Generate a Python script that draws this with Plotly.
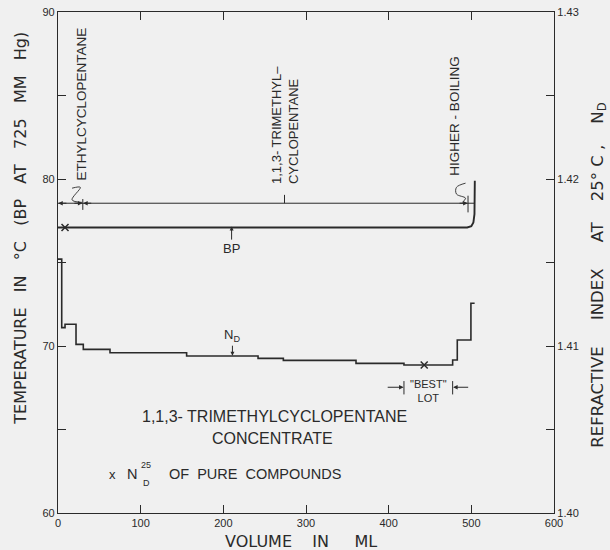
import plotly.graph_objects as go

# ---------------- data ----------------
x_ticks = [0, 100, 200, 300, 400, 500, 600]

# refractive index step curve (volume ml, n_D at start of each step)
nd_vol = [0, 4.5, 8.5, 21.8, 30.6, 62.9, 155.6, 242, 272.6, 360.5, 418.5, 477.4, 483, 499.5, 504]
nd_val = [1.4152, 1.4111, 1.4113, 1.4101, 1.4098, 1.4096, 1.4094, 1.40926, 1.40914,
          1.40896, 1.40886, 1.40916, 1.41036, 1.41256, 1.41256]

# boiling point curve (volume ml, deg C)
bp_vol = [0, 495, 500, 502.5, 503.8, 504.2]
bp_temp = [77.1, 77.1, 77.17, 77.4, 77.9, 79.9]

# n_D25 of pure compounds
pure_vol = [8.5, 443]
pure_nd = [1.4171, 1.40886]

INK = "#2a2a2a"
BG = "#f0f0f0"
FONT = "Liberation Sans"
FONT2 = "DejaVu Sans"

fig = go.Figure()

fig.add_trace(go.Scatter(x=nd_vol, y=nd_val, mode="lines", line=dict(color=INK, width=1.6, shape="hv"),
                         yaxis="y2", showlegend=False, hoverinfo="skip"))
fig.add_trace(go.Scatter(x=bp_vol, y=bp_temp, mode="lines", line=dict(color=INK, width=1.9),
                         showlegend=False, hoverinfo="skip"))
fig.add_trace(go.Scatter(x=pure_vol, y=pure_nd, mode="markers", yaxis="y2",
                         marker=dict(symbol="x-thin", size=7, line=dict(color=INK, width=1.5)),
                         showlegend=False, hoverinfo="skip"))

# fraction range line
yr = 78.55
fig.add_trace(go.Scatter(x=[0, 504], y=[yr, yr], mode="lines", line=dict(color=INK, width=1.0),
                         showlegend=False, hoverinfo="skip"))
# squiggles
fig.add_trace(go.Scatter(x=[17, 27, 17, 29], y=[79.45, 79.5, 78.75, 78.6], mode="lines",
                         line=dict(color=INK, width=0.9, shape="spline"), showlegend=False, hoverinfo="skip"))
fig.add_trace(go.Scatter(x=[493, 482, 482, 493, 489], y=[79.75, 79.5, 79.1, 78.85, 78.6], mode="lines",
                         line=dict(color=INK, width=0.9, shape="spline"), showlegend=False, hoverinfo="skip"))

shapes = []
def vline(x, y0, y1, yref="y"):
    shapes.append(dict(type="line", xref="x", yref=yref, x0=x, x1=x, y0=y0, y1=y1,
                       line=dict(color=INK, width=1)))
vline(30, 78.15, 78.8)
vline(274, 78.55, 79.05)
vline(496, 78.0, 79.0)
vline(418.5, 67.1, 67.9)
vline(477.4, 67.1, 67.9)

ann = []
def arrow(x, y, ax, ay, yref="y"):
    ann.append(dict(x=x, y=y, ax=ax, ay=ay, xref="x", yref=yref, axref="x", ayref=yref,
                    text="", showarrow=True, arrowhead=2, arrowsize=0.9, arrowwidth=1, arrowcolor=INK))
arrow(0.3, yr, 12, yr)
arrow(29.5, yr, 18, yr)
arrow(30.5, yr, 42, yr)
arrow(495.5, yr, 484, yr)
arrow(418, 67.53, 397, 67.53)
arrow(478, 67.53, 498, 67.53)

def text(x, y, s, size=12, angle=0, xanchor="center", yanchor="middle", align="center",
         xref="x", yref="y", family=FONT):
    ann.append(dict(x=x, y=y, xref=xref, yref=yref, text=s, showarrow=False, textangle=angle,
                    xanchor=xanchor, yanchor=yanchor, align=align,
                    font=dict(family=family, size=size, color=INK)))

text(29, 79.82, "ETHYLCYCLOPENTANE", size=13.5, angle=-90, yanchor="bottom")
text(274, 79.55, "1,1,3- TRIMETHYL–<br>CYCLOPENTANE", size=13, angle=-90, yanchor="bottom", align="left")
text(480, 80.1, "HIGHER - BOILING", size=13.5, angle=-90, yanchor="bottom")

# BP and N_D pointers
ann.append(dict(x=210, y=77.15, xref="x", yref="y", ax=0, ay=22, text="BP", showarrow=True,
                arrowhead=2, arrowsize=0.8, arrowwidth=1, arrowcolor=INK,
                font=dict(family=FONT, size=13, color=INK)))
ann.append(dict(x=211, y=1.40942, xref="x", yref="y2", ax=0, ay=-20, text="N<sub>D</sub>", showarrow=True,
                arrowhead=2, arrowsize=0.8, arrowwidth=1, arrowcolor=INK,
                font=dict(family=FONT, size=13, color=INK)))

text(447.6, 67.3, "\"BEST\"<br>LOT", size=11)
text(262, 65.8, "1,1,3- TRIMETHYLCYCLOPENTANE", size=16)
text(259, 64.45, "CONCENTRATE", size=16)
text(65.5, 62.33, "x", size=13)
text(89.7, 62.33, "N", size=14.5)
text(106.7, 62.87, "25", size=9)
text(107, 61.8, "D", size=9)
text(132, 62.33, "OF  PURE  COMPOUNDS", size=14.5, xanchor="left")

# axis titles
text(-0.075, 0.569, "TEMPERATURE   IN   °C   (BP   AT   725   MM   Hg)", size=16, angle=-90,
     xref="paper", yref="paper", family=FONT2)
text(1.088, 0.475, "REFRACTIVE     INDEX     AT    25° C ,    N<sub>D</sub>", size=16.5, angle=-90,
     xref="paper", yref="paper", family=FONT2)
text(0.489, -0.056, "VOLUME    IN     ML", size=16, xref="paper", yref="paper", family=FONT2)

fig.update_layout(
    width=610, height=550,
    margin=dict(l=58, r=56, t=12, b=37, autoexpand=False),
    paper_bgcolor=BG, plot_bgcolor=BG,
    font=dict(family=FONT, color=INK),
    shapes=shapes, annotations=ann,
    xaxis=dict(range=[0, 600], tickvals=x_ticks, ticks="inside", ticklen=8, tickcolor=INK,
               showline=True, linecolor=INK, linewidth=1.3, mirror="ticks", showgrid=False,
               zeroline=False, automargin=False, tickfont=dict(size=11, family=FONT)),
    yaxis=dict(range=[60, 90], dtick=10, ticks="inside", ticklen=8, tickcolor=INK,
               minor=dict(dtick=5, ticks="inside", ticklen=8, tickcolor=INK),
               showline=True, linecolor=INK, linewidth=1.3, mirror=True, showgrid=False,
               zeroline=False, automargin=False, tickfont=dict(size=11, family=FONT)),
    yaxis2=dict(range=[1.40, 1.43], dtick=0.01, tickformat=".2f", overlaying="y", side="right",
                ticks="inside", ticklen=8, tickcolor=INK,
                minor=dict(dtick=0.005, ticks="inside", ticklen=8, tickcolor=INK),
                showline=True, linecolor=INK, linewidth=1.3, showgrid=False, zeroline=False,
                automargin=False, tickfont=dict(size=11, family=FONT)),
)

fig.write_html("out.html", config={"displayModeBar": False},
               post_script="document.body.style.margin='0';")
